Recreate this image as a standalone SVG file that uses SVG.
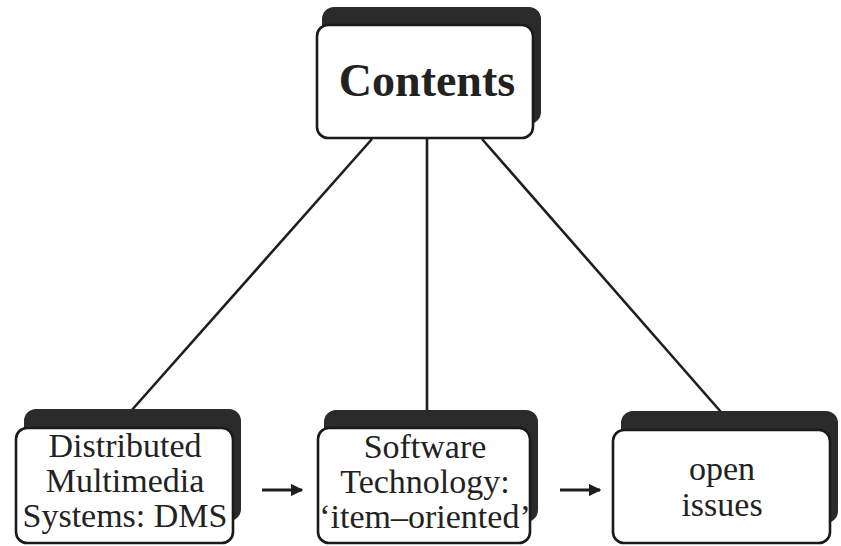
<svg xmlns="http://www.w3.org/2000/svg" width="841" height="546" viewBox="0 0 841 546">
  <style>
    .shadow { fill: #2b2b2b; stroke: #2b2b2b; stroke-width: 2; }
    .box { fill: #ffffff; stroke: #1a1a1a; stroke-width: 2.6; }
    .edge { stroke: #1e1e1e; stroke-width: 2.6; fill: none; }
    .flow { stroke: #1e1e1e; stroke-width: 3; fill: none; }
    .label { font-family: "Liberation Serif", "Times New Roman", serif; font-size: 34px; fill: #222; text-anchor: middle; }
    .title { font-family: "Liberation Serif", "Times New Roman", serif; font-size: 46px; font-weight: bold; fill: #222; text-anchor: middle; }
  </style>
  <defs>
    <marker id="arrowhead" viewBox="0 0 10 10" refX="9" refY="5" markerWidth="4.2" markerHeight="4.2" orient="auto" markerUnits="strokeWidth">
      <path d="M0,0 L10,5 L0,10 z" fill="#1e1e1e"/>
    </marker>
  </defs>
  <rect width="841" height="546" fill="#ffffff"/>

  <!-- tree edges and sequence arrows -->
  <g id="connectors">
    <line class="edge" x1="372" y1="139" x2="131" y2="411"/>
    <line class="edge" x1="427" y1="139" x2="427" y2="412"/>
    <line class="edge" x1="482" y1="139" x2="721" y2="412"/>
    <line class="flow" x1="262" y1="490" x2="302" y2="490" marker-end="url(#arrowhead)"/>
    <line class="flow" x1="560" y1="490" x2="600" y2="490" marker-end="url(#arrowhead)"/>
  </g>

  <g id="contents">
    <rect class="shadow" x="323" y="8" width="217" height="115" rx="11"/>
    <rect class="box" x="317" y="25" width="216" height="113" rx="11"/>
    <text class="title" x="427" y="96">Contents</text>
  </g>

  <g id="dms">
    <rect class="shadow" x="25" y="410" width="215" height="110" rx="11"/>
    <rect class="box" x="16" y="428" width="217" height="115" rx="11"/>
    <text class="label" x="125" y="457">Distributed</text>
    <text class="label" x="125" y="492">Multimedia</text>
    <text class="label" x="125" y="527">Systems: DMS</text>
  </g>

  <g id="software">
    <rect class="shadow" x="325" y="411" width="212" height="110" rx="11"/>
    <rect class="box" x="318" y="428" width="212" height="115" rx="11"/>
    <text class="label" x="425" y="458">Software</text>
    <text class="label" x="425" y="493">Technology:</text>
    <text class="label" x="425" y="528">‘item–oriented’</text>
  </g>

  <g id="open-issues">
    <rect class="shadow" x="622" y="412" width="215" height="110" rx="11"/>
    <rect class="box" x="613" y="430" width="217" height="113" rx="11"/>
    <text class="label" x="722" y="480">open</text>
    <text class="label" x="722" y="516">issues</text>
  </g>
</svg>
